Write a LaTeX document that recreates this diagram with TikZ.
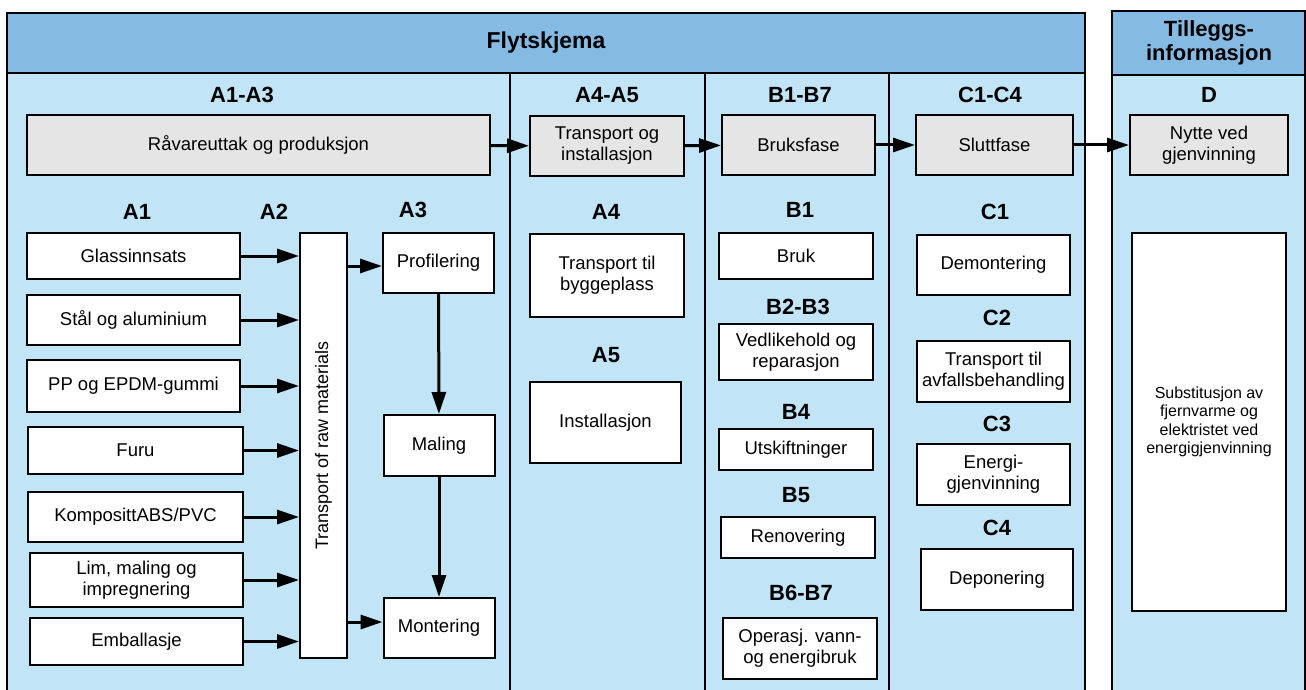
\documentclass[tikz,border=0pt]{standalone}
\usepackage{fontspec}
\setmainfont{Liberation Sans}
\usetikzlibrary{arrows.meta}
\definecolor{hdrblue}{RGB}{133,187,227}
\definecolor{bodyblue}{RGB}{193,228,246}
\definecolor{boxgrey}{RGB}{229,229,229}

\begin{document}
\begin{tikzpicture}[x=1pt, y=-1pt,
    box/.style={draw, line width=2pt, fill=white, inner sep=0pt, align=center,
      font=\fontsize{18.5}{21}\selectfont},
    phase/.style={box, fill=boxgrey},
    lbl/.style={font=\fontsize{22}{23}\selectfont\bfseries},
    arr/.style={line width=3pt, -{Triangle[length=22pt, width=14pt]}}]
      \useasboundingbox (0,0) rectangle (1306,690);
      \fill[bodyblue] (7,13) rectangle (1085,700);
      \fill[hdrblue] (7,13) rectangle (1085,73);
      \draw[line width=1.5pt] (7,73) -- (1085,73);
      \draw[line width=1.5pt] (510,73) -- (510,700);
      \draw[line width=1.5pt] (705,73) -- (705,700);
      \draw[line width=1.5pt] (889,73) -- (889,700);
      \draw[line width=2.5pt] (7,13) rectangle (1085,700);
      \fill[bodyblue] (1112,11) rectangle (1305,700);
      \fill[hdrblue] (1112,11) rectangle (1305,75);
      \draw[line width=1.5pt] (1112,75) -- (1305,75);
      \draw[line width=2.5pt] (1112,11) rectangle (1305,700);
      \node[lbl, font=\fontsize{23}{24}\selectfont\bfseries] (title) at (546,43) {Flytskjema};
      \node[lbl, align=center, font=\fontsize{22}{23.5}\selectfont\bfseries] (extra) at (1209,43) {Tilleggs-\\informasjon};

      \node[lbl] (lA13) at (242,95) {A1-A3};
      \node[lbl] (lA45) at (607,95) {A4-A5};
      \node[lbl] (lB17) at (800,95) {B1-B7};
      \node[lbl] (lC14) at (990,95) {C1-C4};
      \node[lbl] (lD) at (1209,95) {D};

      \node[phase, minimum width=463pt, minimum height=60pt] (rav) at (258.5,145) {Råvareuttak og produksjon};
      \node[phase, minimum width=154pt, minimum height=60pt] (trinst) at (607,146) {Transport og\\installasjon};
      \node[phase, minimum width=153pt, minimum height=60pt] (bruks) at (798.5,145) {Bruksfase};
      \node[phase, minimum width=157pt, minimum height=60pt] (slutt) at (994.5,145) {Sluttfase};
      \node[phase, minimum width=158pt, minimum height=60pt] (nytte) at (1209,145) {Nytte ved\\gjenvinning};
      \draw[arr] (rav) -- (trinst);
      \draw[arr] (trinst) -- (bruks);
      \draw[arr] (bruks) -- (slutt);
      \draw[arr] (slutt) -- (nytte);

      \node[lbl] (lA1) at (137,212) {A1};
      \node[lbl] (lA2) at (274,212) {A2};
      \node[lbl] (lA3) at (413,210) {A3};
      \node[box, minimum width=213pt, minimum height=46pt] (glass) at (133.5,256) {Glassinnsats};
      \node[box, minimum width=213pt, minimum height=50pt] (staal) at (133.5,320) {Stål og aluminium};
      \node[box, minimum width=213pt, minimum height=52pt] (pp) at (133.5,386) {PP og EPDM-gummi};
      \node[box, minimum width=215pt, minimum height=47pt] (furu) at (135.5,450.5) {Furu};
      \node[box, minimum width=215pt, minimum height=50pt] (kompositt) at (135.5,517) {KomposittABS/PVC};
      \node[box, minimum width=213pt, minimum height=54pt] (lim) at (136.5,580) {Lim, maling og\\impregnering};
      \node[box, minimum width=213pt, minimum height=47pt] (emb) at (136.5,641.5) {Emballasje};
      \node[box, minimum width=47pt, minimum height=425pt] (transp) at (323.5,445.5) {};
      \node[rotate=90, font=\fontsize{18}{20}\selectfont] (transptxt) at (transp) {Transport of raw materials};
      \foreach \n in {glass, staal, pp, furu, kompositt, lim, emb}
        \draw[arr] (\n) -- (\n -| transp.west);

      \node[box, minimum width=111pt, minimum height=60pt] (prof) at (438.5,263) {Profilering};
      \node[box, minimum width=111pt, minimum height=61pt] (maling) at (439,445.5) {Maling};
      \node[box, minimum width=111pt, minimum height=60pt] (mont) at (439,628) {Montering};
      \draw[arr] (transp.east |- 0,266) -- (prof.west |- 0,266);
      \draw[arr] (transp.east |- 0,622) -- (mont.west |- 0,622);
      \draw[arr] (prof) -- (maling);
      \draw[arr] (maling) -- (mont);

      \node[lbl] (lA4) at (606,212) {A4};
      \node[lbl] (lA5) at (606,355) {A5};
      \node[box, minimum width=154pt, minimum height=83pt] (bygg) at (607,275.5) {Transport til\\byggeplass};
      \node[box, minimum width=151pt, minimum height=81pt] (install) at (605.5,422.5) {Installasjon};

      \node[lbl] (lB1) at (800,210) {B1};
      \node[lbl] (lB23) at (798,307) {B2-B3};
      \node[lbl] (lB4) at (796,412) {B4};
      \node[lbl] (lB5) at (796,495) {B5};
      \node[lbl] (lB67) at (801,593) {B6-B7};
      \node[box, minimum width=154pt, minimum height=46pt] (bruk) at (796,256) {Bruk};
      \node[box, minimum width=154pt, minimum height=56pt] (vedl) at (796,352) {Vedlikehold og\\reparasjon};
      \node[box, minimum width=154pt, minimum height=41pt] (utsk) at (796,449.5) {Utskiftninger};
      \node[box, minimum width=154pt, minimum height=41pt] (renov) at (798,537.5) {Renovering};
      \node[box, minimum width=154pt, minimum height=61pt] (operasj) at (800,648.5) {Operasj. vann-\\og energibruk};

      \node[lbl] (lC1) at (995,212) {C1};
      \node[lbl] (lC2) at (997,318) {C2};
      \node[lbl] (lC3) at (997,424) {C3};
      \node[lbl] (lC4) at (997,528) {C4};
      \node[box, minimum width=153pt, minimum height=60pt] (demont) at (993.5,265) {Demontering};
      \node[box, minimum width=153pt, minimum height=61pt] (avfall) at (993.5,371.5) {Transport til\\avfallsbehandling};
      \node[box, minimum width=153pt, minimum height=61pt] (energi) at (993.5,474.5) {Energi-\\gjenvinning};
      \node[box, minimum width=152pt, minimum height=61pt] (depon) at (997,579.5) {Deponering};

      \node[box, minimum width=154pt, minimum height=378pt, font=\fontsize{16}{18.5}\selectfont] (subst) at (1209,422) {Substitusjon av\\fjernvarme og\\elektristet ved\\energigjenvinning};
\end{tikzpicture}
\end{document}
